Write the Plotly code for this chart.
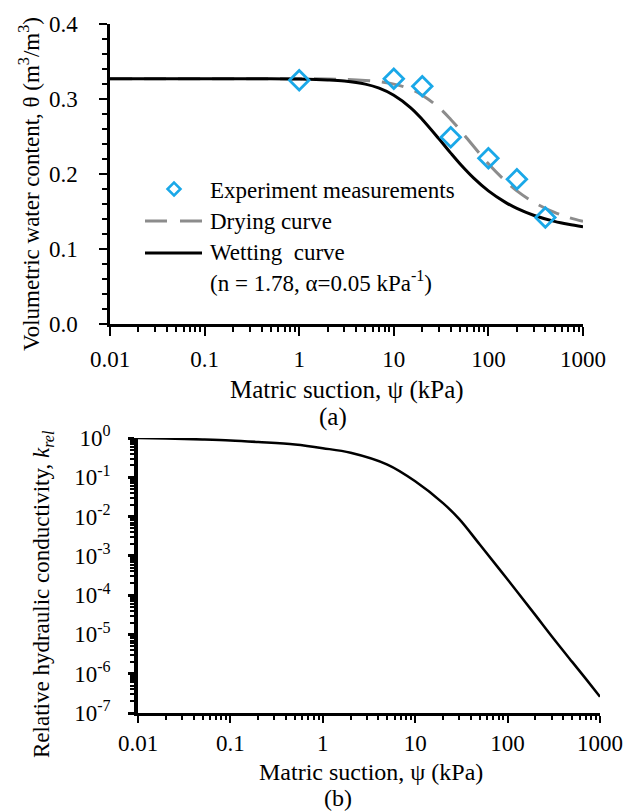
import plotly.graph_objects as go

# ---- (a) soil-water characteristic curves ----
suction_grid = [0.01, 0.1, 0.5, 1, 2, 3, 5, 7, 10, 15, 20, 30, 40, 50, 70,
                100, 150, 200, 300, 500, 700, 1000]
theta_wetting = [0.327, 0.327, 0.327, 0.3266, 0.3255, 0.3240, 0.3198, 0.3144,
                 0.305, 0.2886, 0.2728, 0.2469, 0.2278, 0.2137, 0.1945,
                 0.1775, 0.1625, 0.1541, 0.145, 0.1368, 0.1329, 0.1297]
theta_drying = [0.327, 0.327, 0.327, 0.327, 0.3266, 0.3262, 0.3248, 0.3230,
                0.3198, 0.3133, 0.305, 0.2886, 0.2728, 0.2589, 0.2366,
                0.2137, 0.191, 0.1775, 0.1625, 0.1488, 0.1422, 0.1368]
exp_suction = [1, 10, 20, 40, 100, 200, 400]
exp_theta = [0.325, 0.327, 0.317, 0.249, 0.221, 0.193, 0.142]

# ---- (b) relative hydraulic conductivity ----
krel_suction = [0.01, 0.02, 0.05, 0.1, 0.2, 0.5, 1, 2, 5, 10, 20, 30, 50,
                100, 200, 300, 500, 700, 1000]
krel_values = [1.0, 0.97, 0.92, 0.87, 0.79, 0.68, 0.55, 0.42, 0.21, 0.079,
               0.022, 0.0086, 0.00194, 2.5e-4, 3.1e-5, 9.0e-6, 2.0e-6,
               7.5e-7, 2.6e-7]

# ---- ticks ----
suction_ticks = [0.01, 0.1, 1, 10, 100, 1000]
suction_labels = ["0.01", "0.1", "1", "10", "100", "1000"]
theta_ticks = [0.0, 0.1, 0.2, 0.3, 0.4]
theta_labels = ["0.0", "0.1", "0.2", "0.3", "0.4"]
theta_minor = [0.02, 0.04, 0.06, 0.08, 0.12, 0.14, 0.16, 0.18, 0.22, 0.24,
               0.26, 0.28, 0.32, 0.34, 0.36, 0.38]
krel_ticks = [1e0, 1e-1, 1e-2, 1e-3, 1e-4, 1e-5, 1e-6, 1e-7]
krel_labels = ["10<sup>0</sup>", "10<sup>-1</sup>", "10<sup>-2</sup>",
               "10<sup>-3</sup>", "10<sup>-4</sup>", "10<sup>-5</sup>",
               "10<sup>-6</sup>", "10<sup>-7</sup>"]

suction_minor = [m * d for d in suction_ticks[:-1] for m in range(2, 10)]
krel_minor = [m * d for d in krel_ticks[1:] for m in range(2, 10)]

W, H = 626, 812
FONT = "Liberation Serif"
BLUE = "#1AA8E8"
GREY = "#8C8C8C"
TICK_SIZE = 23
TITLE_SIZE = 25
LOWER_TITLE_SIZE = 24
TEXT_SIZE = 23


def fx(p):
    return p / W


def fy(p):
    return 1 - p / H


fig = go.Figure()

fig.add_trace(go.Scatter(
    x=suction_grid, y=theta_drying, mode="lines", xaxis="x", yaxis="y",
    line=dict(color=GREY, width=3, dash="22px,12px", shape="spline"),
    showlegend=False))
fig.add_trace(go.Scatter(
    x=suction_grid, y=theta_wetting, mode="lines", xaxis="x", yaxis="y",
    line=dict(color="black", width=3, shape="spline"), showlegend=False))
fig.add_trace(go.Scatter(
    x=exp_suction, y=exp_theta, mode="markers", xaxis="x", yaxis="y",
    marker=dict(symbol="diamond-open", size=15, color=BLUE,
                line=dict(width=2.8, color=BLUE)),
    showlegend=False))
fig.add_trace(go.Scatter(
    x=krel_suction, y=krel_values, mode="lines", xaxis="x2", yaxis="y2",
    line=dict(color="black", width=2.5, shape="spline"), showlegend=False))

tickfont = dict(family=FONT, size=TICK_SIZE, color="black")
common = dict(showline=True, linecolor="black", showgrid=False,
              zeroline=False, ticks="outside", tickcolor="black",
              tickfont=tickfont, automargin=False)

fig.update_layout(
    template="none",
    width=W, height=H,
    margin=dict(l=0, r=0, t=0, b=0, pad=0, autoexpand=False),
    paper_bgcolor="white", plot_bgcolor="white",
    font=dict(family=FONT, size=TEXT_SIZE, color="black"),
    xaxis=dict(type="log", range=[-2, 3], domain=[fx(110), fx(583)],
               anchor="y", linewidth=2.5, ticklen=9, tickwidth=2,
               tickmode="array", tickvals=suction_ticks,
               ticktext=suction_labels, ticklabelstandoff=4,
               minor=dict(tickmode="array", tickvals=suction_minor,
                          ticks="outside", ticklen=5, tickwidth=1.8,
                          tickcolor="black"),
               **common),
    yaxis=dict(range=[0, 0.4], domain=[fy(324), fy(24)], anchor="x",
               linewidth=2.5, ticklen=8, tickwidth=2,
               tickmode="array", tickvals=theta_ticks,
               ticktext=theta_labels, ticklabelstandoff=17,
               minor=dict(tickmode="array", tickvals=theta_minor,
                          ticks="outside", ticklen=5, tickwidth=1.8,
                          tickcolor="black"),
               **common),
    xaxis2=dict(type="log", range=[-2, 3], domain=[fx(138), fx(600)],
                anchor="y2", linewidth=3, ticklen=7, tickwidth=2,
                tickmode="array", tickvals=suction_ticks,
                ticktext=suction_labels, ticklabelstandoff=0,
                minor=dict(tickmode="array", tickvals=suction_minor,
                           ticks="outside", ticklen=4, tickwidth=1.8,
                           tickcolor="black"),
                **common),
    yaxis2=dict(type="log", range=[-7, 0], domain=[fy(713), fy(438)],
                anchor="x2", linewidth=3.5, ticklen=6, tickwidth=2.5,
                tickmode="array", tickvals=krel_ticks,
                ticktext=krel_labels, ticklabelstandoff=13,
                minor=dict(tickmode="array", tickvals=krel_minor,
                           ticks="outside", ticklen=4, tickwidth=1.8,
                           tickcolor="black"),
                **common),
)

ann = dict(xref="paper", yref="paper", showarrow=False,
           font=dict(family=FONT, size=TEXT_SIZE, color="black"))
big = dict(family=FONT, size=TITLE_SIZE, color="black")
lower = dict(family=FONT, size=LOWER_TITLE_SIZE, color="black")
annotations = [
    dict(x=fx(30), y=fy(184),
         text="Volumetric water content, θ (m<sup>3</sup>/m<sup>3</sup>)",
         textangle=-90, xanchor="center", yanchor="middle"),
    dict(x=fx(347), y=fy(390), text="Matric suction, ψ (kPa)",
         xanchor="center", yanchor="middle", font=big),
    dict(x=fx(333), y=fy(417), text="(a)", xanchor="center",
         yanchor="middle", font=big),
    dict(x=fx(43), y=fy(594),
         text="Relative hydraulic conductivity, <i>k<sub>rel</sub></i>",
         textangle=-90, xanchor="center", yanchor="middle"),
    dict(x=fx(371), y=fy(772), text="Matric suction, ψ (kPa)",
         xanchor="center", yanchor="middle", font=lower, borderpad=0),
    dict(x=fx(338), y=0, text="(b)", xanchor="center",
         yanchor="bottom", font=lower, borderpad=0),
    # legend entries
    dict(x=fx(208), y=fy(190), text="Experiment measurements",
         xanchor="left", yanchor="middle"),
    dict(x=fx(208), y=fy(221), text="Drying curve",
         xanchor="left", yanchor="middle"),
    dict(x=fx(208), y=fy(253), text="Wetting \u00a0curve",
         xanchor="left", yanchor="middle"),
    dict(x=fx(208), y=fy(281),
         text="(n = 1.78, α=0.05 kPa<sup>-1</sup>)",
         xanchor="left", yanchor="middle"),
]
fig.update_layout(annotations=[{**ann, **a} for a in annotations])

fig.update_layout(shapes=[
    dict(type="line", xref="paper", yref="paper",
         x0=fx(145), x1=fx(202), y0=fy(221), y1=fy(221),
         line=dict(color=GREY, width=3, dash="22px,13px")),
    dict(type="line", xref="paper", yref="paper",
         x0=fx(145), x1=fx(202), y0=fy(253), y1=fy(253),
         line=dict(color="black", width=3)),
    dict(type="path", xref="paper", yref="paper",
         xsizemode="pixel", ysizemode="pixel",
         xanchor=fx(174), yanchor=fy(189),
         path="M 0,-6.5 L 6.5,0 L 0,6.5 L -6.5,0 Z",
         line=dict(color=BLUE, width=2.5), fillcolor="rgba(0,0,0,0)"),
])

fig.write_html("out.html")
